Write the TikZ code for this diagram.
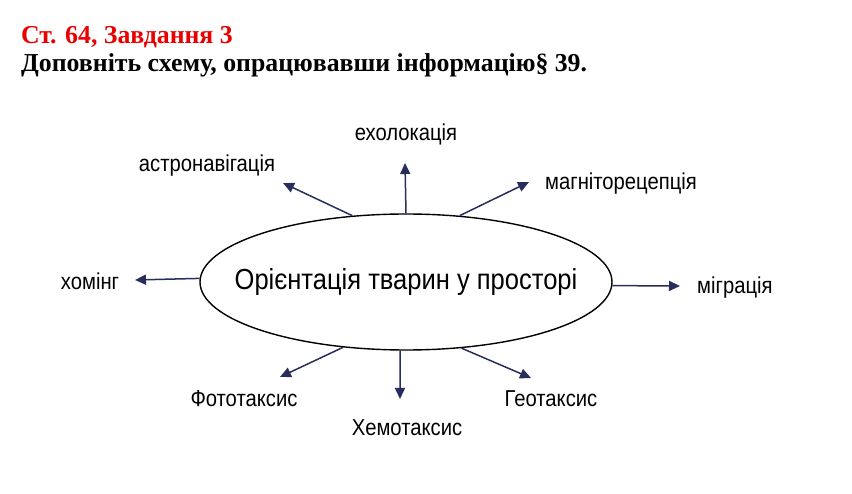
\documentclass[tikz,border=0pt]{standalone}
\usepackage{fontspec}
\setmainfont{Liberation Serif}
\newfontfamily\diagfont[FakeStretch=0.88]{Liberation Sans}
\usetikzlibrary{shapes.geometric,arrows.meta}
\definecolor{titlered}{RGB}{235,0,0}
\definecolor{arrownavy}{RGB}{40,46,92}
\begin{document}
\begin{tikzpicture}[x=1pt,y=-1pt,
  lbl/.style={font=\diagfont\fontsize{23}{25}\selectfont, inner sep=0pt},
  arr/.style={draw=arrownavy, line width=1.5pt, -{Triangle[length=11pt,width=10pt]}},
  ttl/.style={font=\bfseries\fontsize{25.8}{28}\selectfont, anchor=base west, inner sep=0pt}]
\fill[white] (0,0) rectangle (852,494);
\useasboundingbox (0,0) rectangle (852,494);
\node[ttl, text=titlered] (t1) at (21,44) {Ст. 64, Завдання 3};
\node[ttl] (t2) at (21,72) {Доповніть схему, опрацювавши інформацію§ 39.};
\node[draw, line width=1.4pt, ellipse, minimum width=412pt, minimum height=136pt, inner sep=0pt] (e) at (406,282) {};
\node[font=\diagfont\fontsize{29}{31}\selectfont, inner sep=0pt] (ctext) at (e.center) {Орієнтація тварин у просторі};
% tips
\coordinate (astroT) at (283,183);
\coordinate (echoT) at (405,163);
\coordinate (magnT) at (529,182);
\coordinate (homT) at (135,280);
\coordinate (migT) at (680,286);
\coordinate (photoT) at (280,377);
\coordinate (chemT) at (400,399);
\coordinate (geoT) at (531,378);
% labels
\node[lbl] (astro) at (207,166) {астронавігація};
\node[lbl] (echo) at (406,134) {ехолокація};
\node[lbl, anchor=west] (magn) at (545,184) {магніторецепція};
\node[lbl] (hom) at (90,281) {хомінг};
\node[lbl, anchor=west] (mig) at (697,288) {міграція};
\node[lbl] (photo) at (244,399) {Фототаксис};
\node[lbl] (chem) at (407,428) {Хемотаксис};
\node[lbl] (geo) at (551,399) {Геотаксис};
% arrows
\draw[arr] (e.129.5) -- (astroT);
\draw[arr] (e.90) -- (echoT);
\draw[arr] (e.51) -- (magnT);
\draw[arr] (e.179.4) -- (homT);
\draw[arr] (e.-1.1) -- (migT);
\draw[arr] (e.226.8) -- (photoT);
\draw[arr] (e.265) -- (chemT);
\draw[arr] (e.310.7) -- (geoT);
\end{tikzpicture}
\end{document}
